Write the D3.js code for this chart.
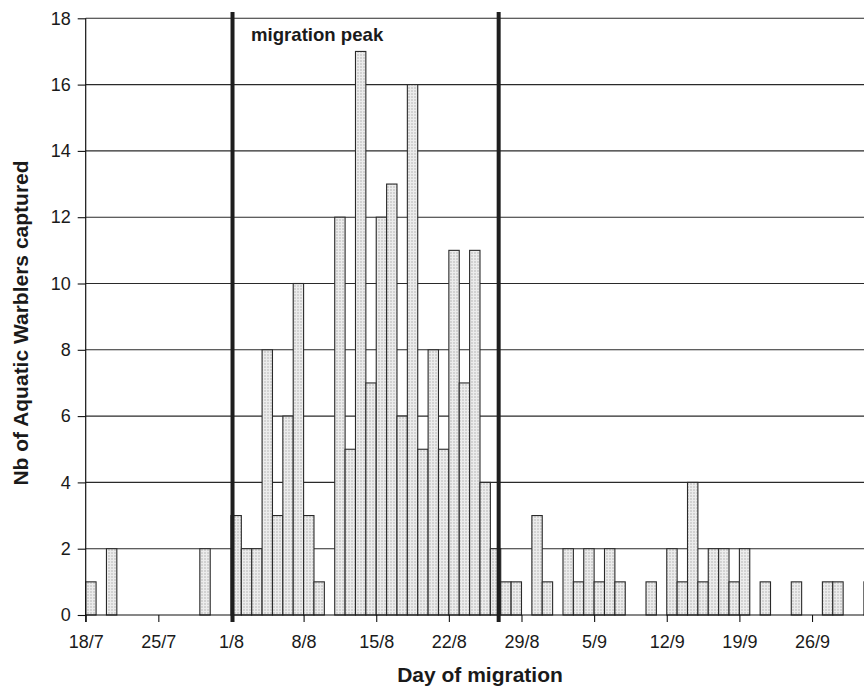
<!DOCTYPE html>
<html>
<head>
<meta charset="utf-8">
<script src="https://cdn.jsdelivr.net/npm/d3@7"></script>
<style>
body { margin: 0; background: #fff; }
text { font-family: "Liberation Sans", Arial, sans-serif; fill: #1a1a1a; }
</style>
</head>
<body>
<svg id="chart" width="864" height="688"></svg>
<script>
// daily captures, first value is 18/7
var counts = [1,0,2,0,0,0,0,0,0,0,0,2,0,0,3,2,2,8,3,6,
              10,3,1,0,12,5,17,7,12,13,6,16,5,8,5,11,7,11,4,2,
              1,1,0,3,1,0,2,1,2,1,2,1,0,0,1,0,2,1,4,1,
              2,2,1,2,0,1,0,0,1,0,0,1,1,0,0,1];
var tickDays = [0,7,14,21,28,35,42,49,56,63,70];
var tickLabels = ["18/7","25/7","1/8","8/8","15/8","22/8","29/8","5/9","12/9","19/9","26/9"];
var yTicks = [0,2,4,6,8,10,12,14,16,18];
var peakBounds = [14.15, 39.8];   // day index of the two thick lines

var svg = d3.select("#chart");
var x = d3.scaleLinear().domain([0, 76]).range([85.7, 85.7 + 76*10.376]);
var y = d3.scaleLinear().domain([0, 18]).range([615, 18.3]);

// dotted fill for the bars
var pat = svg.append("defs").append("pattern")
	.attr("id", "dots").attr("patternUnits", "userSpaceOnUse")
	.attr("width", 3).attr("height", 3);
pat.append("rect").attr("width", 3).attr("height", 3).attr("fill", "#ececec");
pat.append("circle").attr("cx", 1).attr("cy", 1).attr("r", 0.7).attr("fill", "#a4a4a4");

// horizontal grid
svg.append("g").selectAll("line").data(yTicks.slice(1)).enter().append("line")
	.attr("x1", x(0)).attr("x2", 864)
	.attr("y1", function(d){ return y(d); }).attr("y2", function(d){ return y(d); })
	.attr("stroke", "#2a2a2a").attr("stroke-width", 1.1);

// bars, one per day
var bars = svg.append("g");
counts.forEach(function(d, i){
	if (d == 0) return;
	bars.append("rect")
	.attr("x", x(i))
	.attr("y", y(d))
	.attr("width", x(i+1) - x(i))
	.attr("height", y(0) - y(d))
	.attr("fill", "url(#dots)")
	.attr("stroke", "#2a2a2a")
	.attr("stroke-width", 1.1);
});

// axes
var yAxis = d3.axisLeft(y).tickValues(yTicks).tickSize(8).tickPadding(7);
var gy = svg.append("g").attr("transform", "translate(" + x(0) + ",0)").call(yAxis);
gy.select(".domain").attr("d", "M0," + y(18) + "V622").attr("stroke", "#111").attr("stroke-width", 1.2);
gy.selectAll(".tick line").attr("stroke", "#111").attr("stroke-width", 1.1);
gy.selectAll("text").style("font-size", "18px").attr("fill", "#1a1a1a");

var xAxis = d3.axisBottom(x).tickValues(tickDays)
	.tickFormat(function(d, i){ return tickLabels[i]; })
	.tickSize(7).tickPadding(13);
var gx = svg.append("g").attr("transform", "translate(0," + y(0) + ")").call(xAxis);
gx.select(".domain").attr("d", "M" + x(0) + ",0H864").attr("stroke", "#111").attr("stroke-width", 1.2);
gx.selectAll(".tick line").attr("stroke", "#111").attr("stroke-width", 1.1);
gx.selectAll("text").style("font-size", "18px").attr("fill", "#1a1a1a");

// migration peak lines
svg.append("g").selectAll("line").data(peakBounds).enter().append("line")
	.attr("x1", function(d){ return x(d); }).attr("x2", function(d){ return x(d); })
	.attr("y1", 12).attr("y2", 622)
	.attr("stroke", "#1e1e1e").attr("stroke-width", 4);

svg.append("text").attr("x", 251).attr("y", 41)
	.style("font-size", "18.6px").style("font-weight", "bold")
	.text("migration peak");

svg.append("text").attr("x", 480).attr("y", 682).attr("text-anchor", "middle")
	.style("font-size", "21px").style("font-weight", "bold")
	.text("Day of migration");

svg.append("text").attr("transform", "translate(28,323) rotate(-90)")
	.attr("text-anchor", "middle")
	.style("font-size", "21px").style("font-weight", "bold")
	.text("Nb of Aquatic Warblers captured");
</script>
</body>
</html>
